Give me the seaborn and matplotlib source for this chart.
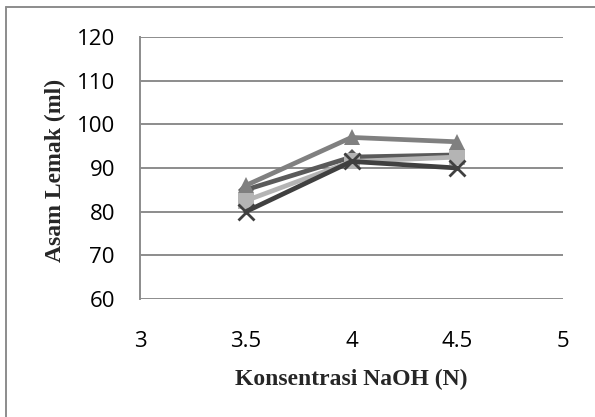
import matplotlib
matplotlib.use("Agg")
import matplotlib.pyplot as plt
from matplotlib.lines import Line2D
import seaborn as sns
import pandas as pd

# Data
konsentrasi = [3.5, 4.0, 4.5]
seri_1 = [85, 92.5, 93]      # diamond, dark grey
seri_2 = [82.5, 91.5, 92.5]  # square, light grey
seri_3 = [86, 97, 96]        # triangle, medium grey
seri_4 = [80, 91.5, 90]      # X, darkest
x_ticks = [3, 3.5, 4, 4.5, 5]
y_ticks = [60, 70, 80, 90, 100, 110, 120]

sns.set_theme(style="white")
plt.rcParams['font.family'] = ['Open Sans', 'DejaVu Sans']

fig = plt.figure(figsize=(5.95, 4.17), dpi=100)
ax = fig.add_axes([140/595, 1-299/417, (563-140)/595, (299-37)/417])

series = [
    (seri_1, "#5a5a5a", "D", 8, "#5a5a5a"),
    (seri_2, "#b4b4b4", "s", 11, "#b4b4b4"),
    (seri_3, "#808080", "^", 11, "#808080"),
    (seri_4, "#404040", "x", 11, "#404040"),
]
for i, (vals, col, mk, ms, mc) in enumerate(series):
    df = pd.DataFrame({"x": konsentrasi, "y": vals})
    sns.lineplot(data=df, x="x", y="y", ax=ax, color=col, linewidth=3.4,
                 marker=mk, markersize=ms, markerfacecolor=mc,
                 markeredgecolor=mc, markeredgewidth=2 if mk == "x" else 0,
                 zorder=3 + i)

ax.set_xlim(3, 5)
ax.set_ylim(60, 120)
ax.set_xticks(x_ticks)
ax.set_xticklabels([f"{t:g}" for t in x_ticks])
ax.set_yticks(y_ticks)
ax.set_yticklabels([str(t) for t in y_ticks])
ax.yaxis.grid(True, color="#8c8c8c", linewidth=1.4)
ax.xaxis.grid(False)
ax.set_axisbelow(True)
for s in ["top", "right", "bottom"]:
    ax.spines[s].set_visible(False)
ax.spines["left"].set_color("#8c8c8c")
ax.spines["left"].set_linewidth(1.4)
ax.tick_params(axis="both", length=0, labelsize=16, colors="black")
ax.tick_params(axis="y", pad=18)
ax.tick_params(axis="x", pad=23)

lbl = dict(family=["Liberation Serif", "DejaVu Serif"], fontweight="bold", fontsize=17)
ax.set_xlabel("Konsentrasi NaOH (N)", **lbl)
ax.set_ylabel("Asam Lemak (ml)", **lbl)
ax.xaxis.set_label_coords(0.5, -(369 - 299) / 262)
ax.yaxis.set_label_coords(-(140 - 66) / 423, 0.49)

# Outer chart border (top and left visible)
fig.add_artist(Line2D([6/595, 1.0], [1-7/417, 1-7/417], transform=fig.transFigure,
                      color="#8c8c8c", linewidth=1.4))
fig.add_artist(Line2D([6/595, 6/595], [0, 1-7/417], transform=fig.transFigure,
                      color="#8c8c8c", linewidth=1.4))

fig.savefig("out.png", dpi=100, facecolor="white")
